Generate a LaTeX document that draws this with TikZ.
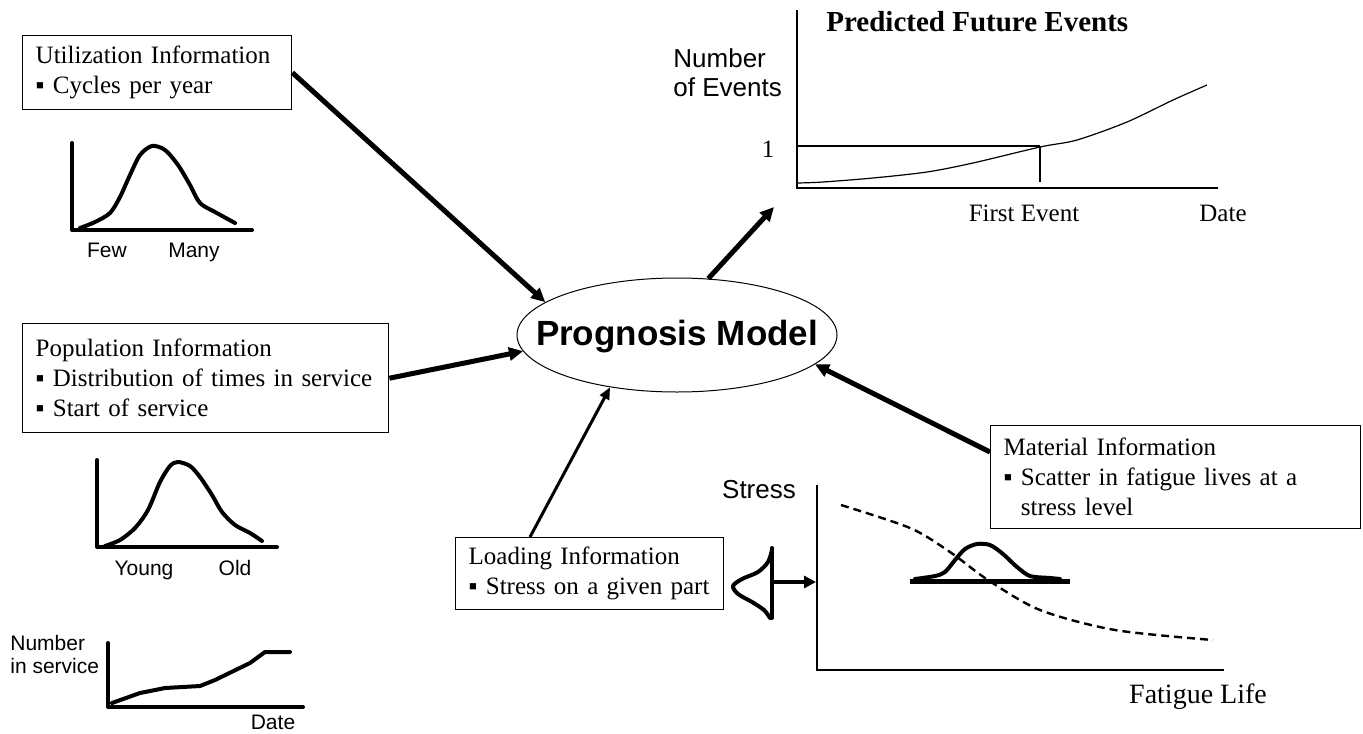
\documentclass[tikz,border=0pt]{standalone}
\usepackage{fontspec}
\setmainfont{Liberation Serif}
\setsansfont{Liberation Sans}
\usetikzlibrary{arrows.meta,shapes.geometric,calc}
\begin{document}
\begin{tikzpicture}[x=0.5pt,y=-0.5pt,
  infobox/.style={draw, line width=0.7pt, rectangle, anchor=north west, align=left,
    inner xsep=6.5pt, inner ysep=0pt, font=\fontsize{12.5}{15}\selectfont},
  sanslbl/.style={font=\sffamily\fontsize{10.5}{11.5}\selectfont, inner sep=0pt},
  biglbl/.style={font=\sffamily\fontsize{13}{14.5}\selectfont, inner sep=0pt},
  serlbl/.style={font=\fontsize{12.5}{15}\selectfont, inner sep=0pt},
  oneline/.style={text height=0.72em, text depth=0.22em},
  thickcurve/.style={line width=2pt, line join=round, line cap=round},
  thinaxis/.style={line width=0.75pt},
  thincurve/.style={line width=0.6pt},
  bigarrow/.style={line width=2.5pt, -{Triangle[length=7pt,width=6.5pt]}},
  medarrow/.style={line width=1.5pt, -{Triangle[length=6pt,width=5pt]}},
]
\useasboundingbox (0,0) rectangle (1363,733);

% ---------- information boxes ----------
\node[infobox, minimum width=134.5pt, minimum height=37pt, text width=121.5pt] (util) at (22,35)
  {Utilization Information\\▪ Cycles per year};
\node[infobox, minimum width=183pt, minimum height=54.5pt, text width=170pt] (pop) at (22,323)
  {Population Information\\▪ Distribution of times in service\\▪ Start of service};
\node[infobox, minimum width=134pt, minimum height=36pt, text width=121pt] (load) at (455,537)
  {Loading Information\\▪ Stress on a given part};
\node[infobox, minimum width=185pt, minimum height=51.5pt, text width=172pt] (mat) at (990,425)
  {Material Information\\▪ Scatter in fatigue lives at a\\\hphantom{▪ }stress level};

% ---------- central model ----------
\node[draw, ellipse, line width=0.5pt, minimum width=160pt, minimum height=57pt, inner sep=0pt] (prog) at (677,335) {};
\node[font=\sffamily\bfseries\fontsize{17.5}{20}\selectfont, inner sep=0pt] (progtxt) at (677,337) {Prognosis Model};

% ---------- connectors ----------
\coordinate (futtip) at (774,207);
\draw[bigarrow] (util.east) -- (prog.166.6);
\draw[bigarrow] (pop.east) -- (prog.186);
\draw[bigarrow] (prog.61.4) -- (futtip);
\draw[medarrow] ($(load.north west)+(75,0)$) -- (prog.218.6);
\draw[bigarrow] ($(mat.north west)+(0,27)$) -- (prog.-12.5);

% ---------- utilization distribution ----------
\draw[thickcurve] (72,143) -- (72,230) -- (252,230);
\draw[thickcurve] plot[smooth] coordinates {(80,228) (95,222) (110,213) (120,197) (130,175) (140,155) (152,146) (165,150) (178,165) (190,185) (200,203) (215,212) (235,223)};
\node[sanslbl, oneline] (few) at (107,252) {Few};
\node[sanslbl, oneline] (many) at (194,252) {Many};

% ---------- population distribution ----------
\draw[thickcurve] (97,460) -- (97,547) -- (277,547);
\draw[thickcurve] plot[smooth] coordinates {(105,546) (120,540) (135,528) (148,510) (160,482) (170,466) (178,462) (190,466) (200,477) (212,495) (222,512) (235,525) (250,533) (262,541)};
\node[sanslbl, oneline] (young) at (144,570) {Young};
\node[sanslbl, oneline] (old) at (235,570) {Old};

% ---------- number in service ----------
\draw[thickcurve] (108,643) -- (108,707) -- (303,707);
\draw[thickcurve] (112,703) -- (140,693) -- (165,688) -- (200,686) -- (215,680) -- (250,663) -- (265,652) -- (290,652);
\node[sanslbl, anchor=west, align=left] (nis) at (10,654) {Number\\in service};
\node[sanslbl, oneline] (date1) at (273,724) {Date};

% ---------- predicted future events ----------
\node[font=\bfseries\fontsize{14.5}{17}\selectfont, inner sep=0pt, anchor=west, oneline] (title) at (826,27) {Predicted Future Events};
\draw[thinaxis] (797,10) -- (797,188) -- (1218,188);
\draw[thinaxis] (797,146) -- (1040,146);
\draw[thinaxis] (1040,147) -- (1040,182);
\draw[thincurve] plot[smooth] coordinates {(798,183) (823,182) (873,178) (927,172) (973,163) (1040,147) (1077,140) (1127,122) (1173,100) (1207,85)};
\node[biglbl, anchor=west, align=left] (noe) at (673,73) {Number\\of Events};
\node[serlbl, oneline] (one) at (768,152) {1};
\node[serlbl, oneline] (first) at (1024,216) {First Event};
\node[serlbl, oneline] (date2) at (1223,216) {Date};

% ---------- stress / fatigue life ----------
\draw[thinaxis] (817,485) -- (817,670) -- (1224,670);
\draw[line width=1.2pt, dash pattern=on 4pt off 2.5pt] plot[smooth] coordinates {(841,505) (910,528) (950,552) (988,580) (1040,610) (1115,630) (1213,640)};
\draw[line width=2.5pt] (910,581) -- (1070,581);
\draw[thickcurve] plot[smooth] coordinates {(915,579) (935,576) (945,572) (955,560) (965,549) (977,544) (990,545) (1003,554) (1017,567) (1030,576) (1050,578) (1060,579)};
\node[biglbl, oneline] (stress) at (759,493) {Stress};
\node[font=\fontsize{14}{16}\selectfont, inner sep=0pt, oneline] (fat) at (1198,698) {Fatigue Life};

% ---------- loading distribution ----------
\draw[thickcurve] (772,548) -- (772,618);
\draw[thickcurve] plot[smooth] coordinates {(772,550) (768,562) (758,572) (742,579) (733,586) (738,594) (752,602) (764,610) (770,618)};
\coordinate (lsrc) at (772,582);
\coordinate (lend) at (816,582);
\draw[line width=1.8pt, -{Triangle[length=6pt,width=6pt]}] (lsrc) -- (lend);
\end{tikzpicture}
\end{document}
